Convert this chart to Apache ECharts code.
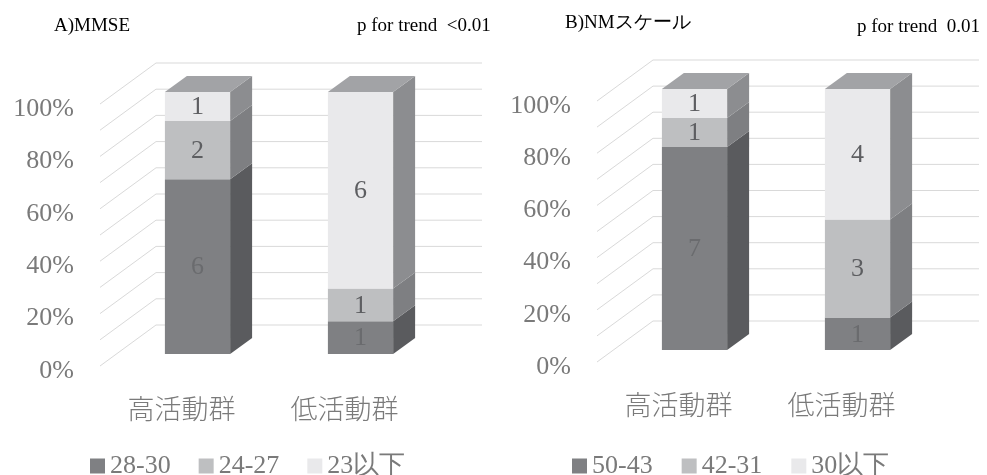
<!DOCTYPE html>
<html>
<head>
<meta charset="utf-8">
<script src="https://cdn.jsdelivr.net/npm/echarts@6/dist/echarts.min.js"></script>
<style>html,body{margin:0;padding:0;background:#fff}#c{width:987px;height:475px}</style>
</head>
<body>
<div id="c"></div>
<script>
// ---- data ----
const categories = ['高活動群', '低活動群'];
const yTicks = [0, 20, 40, 60, 80, 100];
const gridTicks = [0, 10, 20, 30, 40, 50, 60, 70, 80, 90, 100];

const panelATitle = 'A)MMSE';
const panelAP = 'p for trend  <0.01';
const panelASeriesNames = ['28-30', '24-27', '23以下'];
const panelA_28_30 = [6, 1];
const panelA_24_27 = [2, 1];
const panelA_23under = [1, 6];

const panelBTitle = 'B)NMスケール';
const panelBP = 'p for trend  0.01';
const panelBSeriesNames = ['50-43', '42-31', '30以下'];
const panelB_50_43 = [7, 1];
const panelB_42_31 = [1, 3];
const panelB_30under = [1, 4];

// ---- styles ----
const FRONT = ['#7f8083', '#bebfc1', '#e9e9eb'];
const SIDE = ['#5a5b5e', '#7e7f82', '#8c8d90'];
const TOP = '#a2a3a6';
const LABEL_COL = ['#6a6b6e', '#5d5e61', '#5d5e61'];
const GRID_COL = '#d9d9d9';
const AXIS_TXT = '#7a7a7a';
const DEPTH = [56, -41];      // floor depth vector
const BAR_OFF = [16, -12];    // front face of bars from front plane
const BAR_DEPTH = [22, -16];  // bar side depth
const SERIF = 'Liberation Serif';
const CJK = 'Noto Sans CJK JP';

function stackRanges(levels) {
  const n = levels[0].length;
  const out = levels.map(() => []);
  for (let i = 0; i < n; i++) {
    let tot = 0;
    levels.forEach(l => tot += l[i]);
    let acc = 0;
    levels.forEach((l, k) => {
      const lo = acc / tot * 100;
      acc += l[i];
      const hi = acc / tot * 100;
      out[k].push([i, lo, hi, l[i], k === levels.length - 1 ? 1 : 0]);
    });
  }
  return out;
}

function barRender(level) {
  return function (params, api) {
    const cat = api.value(0), lo = api.value(1), hi = api.value(2), cnt = api.value(3), isTop = api.value(4);
    const pLo = api.coord([cat, lo]);
    const pHi = api.coord([cat, hi]);
    const bw = api.size([1, 0])[0] * 0.4;
    const x0 = pLo[0] - bw / 2 + BAR_OFF[0];
    const x1 = x0 + bw;
    const yb = pLo[1] + BAR_OFF[1];
    const yt = pHi[1] + BAR_OFF[1];
    const ch = [];
    ch.push({ type: 'polygon', shape: { points: [[x1, yb], [x1 + BAR_DEPTH[0], yb + BAR_DEPTH[1]], [x1 + BAR_DEPTH[0], yt + BAR_DEPTH[1]], [x1, yt]] }, style: { fill: SIDE[level] } });
    if (isTop) {
      ch.push({ type: 'polygon', shape: { points: [[x0, yt], [x1, yt], [x1 + BAR_DEPTH[0], yt + BAR_DEPTH[1]], [x0 + BAR_DEPTH[0], yt + BAR_DEPTH[1]]] }, style: { fill: TOP } });
    }
    ch.push({ type: 'rect', shape: { x: x0, y: yt, width: bw, height: yb - yt }, style: { fill: FRONT[level] } });
    ch.push({ type: 'text', x: (x0 + x1) / 2, y: (yt + yb) / 2 + 1, style: { text: String(cnt), fill: LABEL_COL[level], fontFamily: SERIF, fontSize: 26, align: 'center', verticalAlign: 'middle' } });
    return { type: 'group', children: ch };
  };
}

function gridRender(params, api) {
  const cs = params.coordSys;
  const v = api.value(1);
  const y = api.coord([0, v])[1];
  const bx = cs.x + DEPTH[0], by = y + DEPTH[1];
  return {
    type: 'group', children: [
      { type: 'line', shape: { x1: cs.x, y1: y, x2: bx, y2: by }, style: { stroke: GRID_COL, lineWidth: 1 } },
      { type: 'line', shape: { x1: bx, y1: by, x2: bx + cs.width, y2: by }, style: { stroke: GRID_COL, lineWidth: 1 } }
    ]
  };
}

function panel(idx, names, levels) {
  const ranges = stackRanges(levels);
  const series = [{
    type: 'custom', xAxisIndex: idx, yAxisIndex: idx, silent: true, z: 1,
    data: gridTicks.map(t => [0, t]), encode: { x: 0, y: 1 }, renderItem: gridRender
  }];
  ranges.forEach((d, k) => {
    series.push({
      type: 'custom', name: names[k], xAxisIndex: idx, yAxisIndex: idx, z: 2,
      itemStyle: { color: FRONT[k] },
      data: d, encode: { x: 0, y: [1, 2] }, renderItem: barRender(k)
    });
  });
  return series;
}

const xAx = idx => ({
  type: 'category', gridIndex: idx, data: categories,
  axisLine: { show: false }, axisTick: { show: false }, splitLine: { show: false },
  axisLabel: { fontFamily: CJK, fontSize: 27, fontWeight: 300, color: AXIS_TXT, margin: 29 }
});
const yAx = idx => ({
  type: 'value', gridIndex: idx, min: 0, max: 100, interval: 20,
  axisLine: { show: false }, axisTick: { show: false }, splitLine: { show: false },
  axisLabel: {
    formatter: v => yTicks.includes(v) ? '{a|' + v + '%}' : '',
    rich: { a: { fontFamily: SERIF, fontSize: 26, color: AXIS_TXT, padding: [10, 0, 0, 0] } },
    margin: 26
  }
});

const legendText = { fontFamily: SERIF, fontSize: 26, color: AXIS_TXT };
const titleStyle = { fontFamily: SERIF, fontSize: 19, fontWeight: 'normal', color: '#000' };

const option = {
  animation: false,
  backgroundColor: '#fff',
  title: [
    { text: panelATitle, left: 54, top: 17, textStyle: titleStyle, padding: 0 },
    { text: panelAP, left: 357, top: 17, textStyle: titleStyle, padding: 0 },
    { text: panelBTitle, left: 565, top: 14, textStyle: titleStyle, padding: 0 },
    { text: panelBP, left: 857, top: 18, textStyle: titleStyle, padding: 0 }
  ],
  grid: [
    { left: 100, top: 104, width: 326, height: 262 },
    { left: 597, top: 101, width: 326, height: 261 }
  ],
  xAxis: [xAx(0), xAx(1)],
  yAxis: [yAx(0), yAx(1)],
  legend: [
    { data: panelASeriesNames, left: 90, top: 453, icon: 'rect', itemWidth: 15, itemHeight: 15, itemGap: 28, textStyle: legendText, padding: 0, selectedMode: false },
    { data: panelBSeriesNames, left: 572, top: 453, icon: 'rect', itemWidth: 15, itemHeight: 15, itemGap: 29, textStyle: legendText, padding: 0, selectedMode: false }
  ],
  series: panel(0, panelASeriesNames, [panelA_28_30, panelA_24_27, panelA_23under])
    .concat(panel(1, panelBSeriesNames, [panelB_50_43, panelB_42_31, panelB_30under]))
};

const chart = echarts.init(document.getElementById('c'), null, { renderer: 'canvas' });
chart.setOption(option);
</script>
</body>
</html>
